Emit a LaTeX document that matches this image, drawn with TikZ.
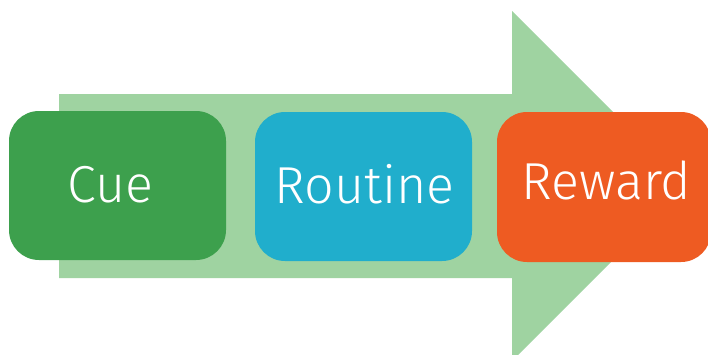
\documentclass[tikz,border=0pt]{standalone}
\usepackage{fontspec}
\setmainfont{Fira Sans}[UprightFont=* Light]
\definecolor{arrowgreen}{HTML}{9FD3A1}
\definecolor{cuegreen}{HTML}{3DA04D}
\definecolor{routineblue}{HTML}{20AECC}
\definecolor{rewardorange}{HTML}{EE5B22}
\tikzset{
  stagebox/.style={rectangle, rounded corners=30pt, draw=none, inner sep=0pt},
  stagetext/.style={text=white, font=\fontsize{52}{62}\selectfont, anchor=base, inner sep=0pt}
}
\begin{document}
\begin{tikzpicture}[x=1pt,y=-1pt]
\useasboundingbox (0,0) rectangle (708,354);
\clip (0,0) rectangle (708,354);
% big arrow
\fill[arrowgreen] (59,94) -- (512,94) -- (512,11) -- (687,186) -- (512,361) -- (512,278) -- (59,278) -- cycle;
% boxes
\node[stagebox, fill=cuegreen, minimum width=217pt, minimum height=149pt] (cue) at (117.5,185.5) {};
\node[stagebox, fill=routineblue, minimum width=217pt, minimum height=149pt] (routine) at (363.5,186.5) {};
\node[stagebox, fill=rewardorange, minimum width=214pt, minimum height=150pt] (reward) at (604,187) {};
% texts
\node[stagetext] (cuet) at (110.5,202) {Cue};
\node[stagetext] (routinet) at (364.5,203) {Routine};
\node[stagetext] (rewardt) at (606.5,199) {Reward};
\end{tikzpicture}
\end{document}
